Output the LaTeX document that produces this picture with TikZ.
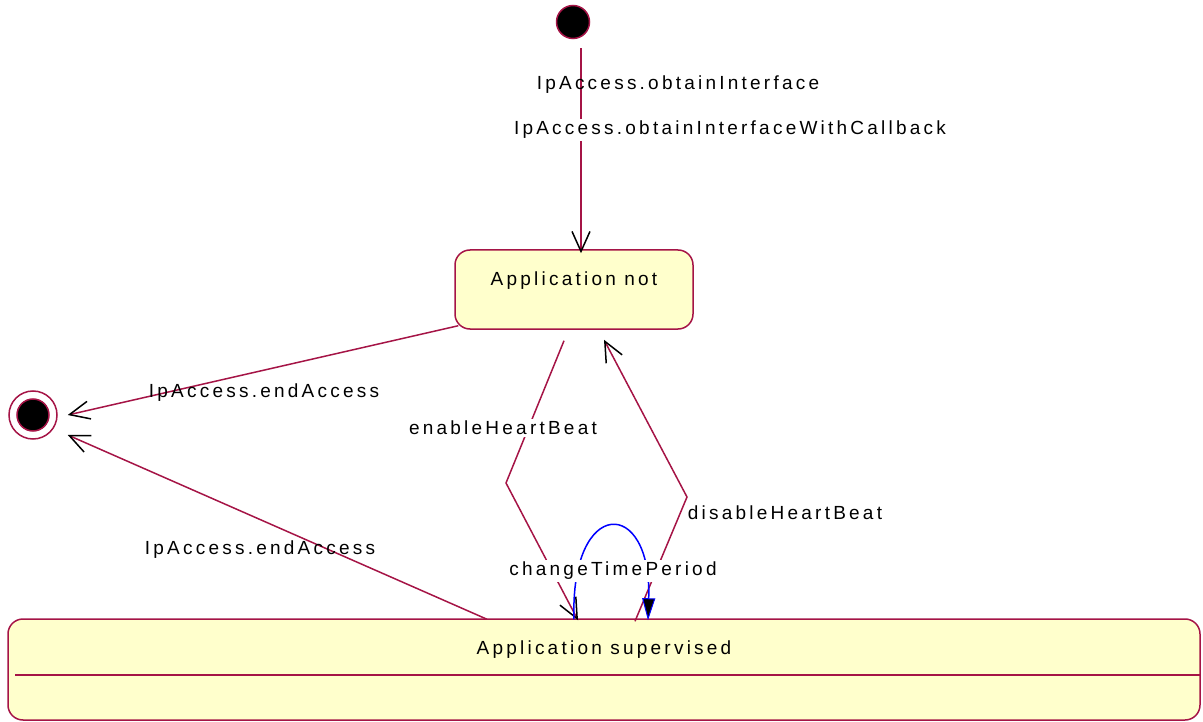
\documentclass[tikz,border=0pt]{standalone}
\usepackage{fontspec}
\usepackage{tikz}
\usetikzlibrary{arrows.meta,calc}
\newfontfamily\umlfont[LetterSpace=17]{Liberation Sans}
\definecolor{umlred}{RGB}{165,20,70}
\definecolor{umlfill}{RGB}{255,255,204}
\definecolor{umlblue}{RGB}{0,0,255}

\begin{document}
\begin{tikzpicture}[x=1pt,y=-1pt,
    font=\umlfont\fontsize{19}{22}\selectfont,
    state/.style={draw=umlred,fill=umlfill,line width=1.5pt,rounded corners=15pt,align=center,inner sep=0pt},
    pseudo/.style={circle,draw=umlred,line width=1.5pt,inner sep=0pt},
    trans/.style={draw=umlred,line width=1.5pt,-{Straight Barb[length=20pt,width=18pt,color=black,line width=1.5pt]}},
    lbl/.style={inner sep=2pt},
    lblw/.style={lbl,fill=white}]
    \useasboundingbox (0,0) rectangle (1203,722);
    % states
    \node[pseudo,fill=black,minimum size=33pt] (init) at (573,22) {};
    \node[state,minimum width=238pt,minimum height=79pt] (notsup) at (574,289.5) {Application not\\\mbox{}};
    \node[state,minimum width=1192pt,minimum height=101pt] (sup) at (604,669.5) {Application supervised\\\mbox{}\\\mbox{}};
    \draw[umlred,line width=2pt] ($(sup.west)+(8,5.5)$) -- ($(sup.east)+(0,5.5)$);
    \node[pseudo,minimum size=48pt] (final) at (33,415) {};
    \node[pseudo,fill=black,minimum size=32pt] (finaldot) at (final) {};
    % bends
    \coordinate (enablebend) at (506,483);
    \coordinate (disablebend) at (687,497);
    % transitions
    \draw[trans] ($(init.south)+(8,9)$) -- ($(notsup.north)+(7,4)$);
    \draw[trans] ($(notsup.south west)+(4,-4)$) -- ($(final.east)+(10,0)$);
    \draw[trans] ($(sup.north)+(-117,1)$) -- ($(final.east)+(10,20)$);
    \draw[trans] ($(notsup.south)+(-10,11)$) -- (enablebend) -- ($(sup.north)+(-26,2)$);
    \draw[trans] ($(sup.north)+(31,3)$) -- (disablebend) -- ($(notsup.south)+(30,10)$);
    \draw[umlblue,line width=1.5pt,-{Triangle[length=22pt,width=13pt,color=umlblue,fill=black,line width=1pt]}]
      ($(sup.north)+(-30,1)$) .. controls ($(sup.north)+(-34,-122)$) and ($(sup.north)+(48,-122)$) .. ($(sup.north)+(44,2)$);
    % labels
    \node[lbl] (obtain) at (678,85) {IpAccess.obtainInterface};
    \node[lblw] (obtaincb) at (730,130) {IpAccess.obtainInterfaceWithCallback};
    \node[lbl] (endtop) at (264,393) {IpAccess.endAccess};
    \node[lbl] (endbot) at (260,550) {IpAccess.endAccess};
    \node[lblw] (enable) at (503,428) {enableHeartBeat};
    \node[lblw] (disable) at (785,513) {disableHeartBeat};
    \node[lblw] (change) at (613,571) {changeTimePeriod};
\end{tikzpicture}
\end{document}
